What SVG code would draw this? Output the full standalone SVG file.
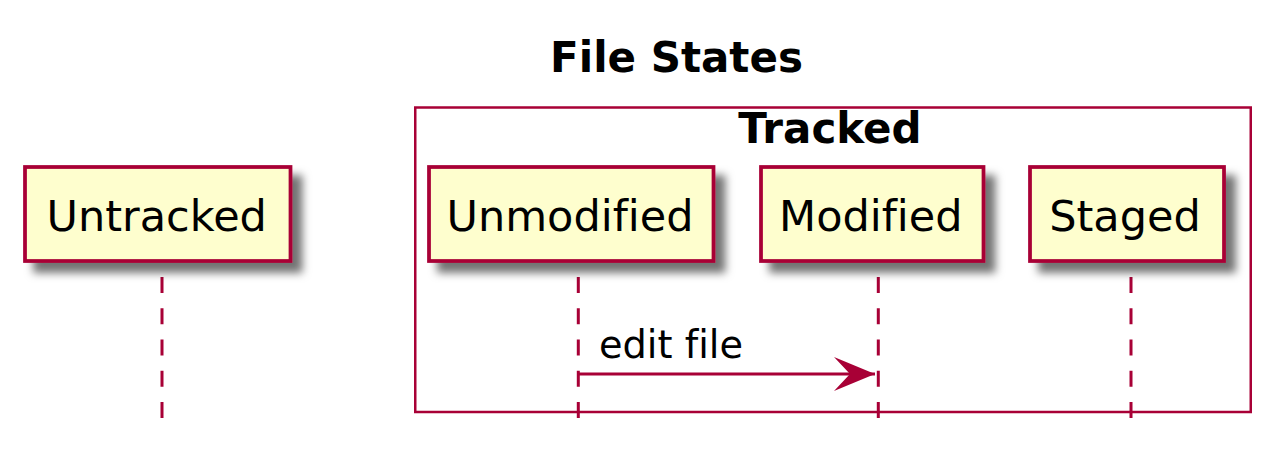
<svg xmlns="http://www.w3.org/2000/svg" width="1281" height="465" viewBox="0 0 1281 465">
<defs>
<filter id="shadow" x="-20%" y="-30%" width="150%" height="170%">
<feGaussianBlur in="SourceAlpha" stdDeviation="4.5" result="b"/>
<feColorMatrix in="b" type="matrix" values="0 0 0 0 0 0 0 0 0 0 0 0 0 0 0 0 0 0 .55 0" result="c"/>
<feOffset in="c" dx="10" dy="10" result="o"/>
<feBlend in="SourceGraphic" in2="o" mode="normal"/>
</filter>
<marker id="arrow" markerUnits="userSpaceOnUse" viewBox="0 0 41 34" refX="41" refY="17" markerWidth="41" markerHeight="34" orient="auto">
<polygon points="41,17 0,0 16,17 0,34" fill="#A80036"/>
</marker>
</defs>
<style>
text{font-variant-ligatures:none;}
.part rect{fill:#FEFECE;stroke:#A80036;stroke-width:3.75;}
.part text{font-family:"DejaVu Sans",sans-serif;font-size:43px;fill:#000;text-anchor:middle;}
.life{stroke:#A80036;stroke-width:3;stroke-dasharray:16 15.25;fill:none;}
.bold{font-family:"DejaVu Sans",sans-serif;font-weight:bold;fill:#000;}
.msg{stroke:#A80036;stroke-width:3;fill:none;}
</style>
<rect width="1281" height="465" fill="#FFFFFF"/>
<text class="bold" x="676.5" y="72" font-size="42" text-anchor="middle">File States</text>
<g id="tracked">
<rect x="415.25" y="107.5" width="835.5" height="304.5" fill="none" stroke="#A80036" stroke-width="2.5"/>
<text class="bold" x="830" y="143.3" font-size="42" text-anchor="middle">Tracked</text>
</g>
<g id="lifelines">
<line class="life" x1="162" y1="277" x2="162" y2="418"/>
<line class="life" x1="578.3" y1="277" x2="578.3" y2="418"/>
<line class="life" x1="878.3" y1="277" x2="878.3" y2="418"/>
<line class="life" x1="1131" y1="277" x2="1131" y2="418"/>
</g>
<g id="untracked" class="part">
<rect x="25" y="167" width="265.5" height="94" filter="url(#shadow)"/>
<text x="156.7" y="231">Untracked</text>
</g>
<g id="unmodified" class="part">
<rect x="429" y="167" width="284.5" height="94" filter="url(#shadow)"/>
<text x="570" y="231">Unmodified</text>
</g>
<g id="modified" class="part">
<rect x="761" y="167" width="222.5" height="94" filter="url(#shadow)"/>
<text x="870.8" y="231">Modified</text>
</g>
<g id="staged" class="part">
<rect x="1030" y="167" width="194" height="94" filter="url(#shadow)"/>
<text x="1125" y="231">Staged</text>
</g>
<g id="connectors">
<line class="msg" x1="578.3" y1="374" x2="875" y2="374" marker-end="url(#arrow)"/>
<text x="599" y="358" font-family="DejaVu Sans, sans-serif" font-size="38.3">edit file</text>
</g>
</svg>
